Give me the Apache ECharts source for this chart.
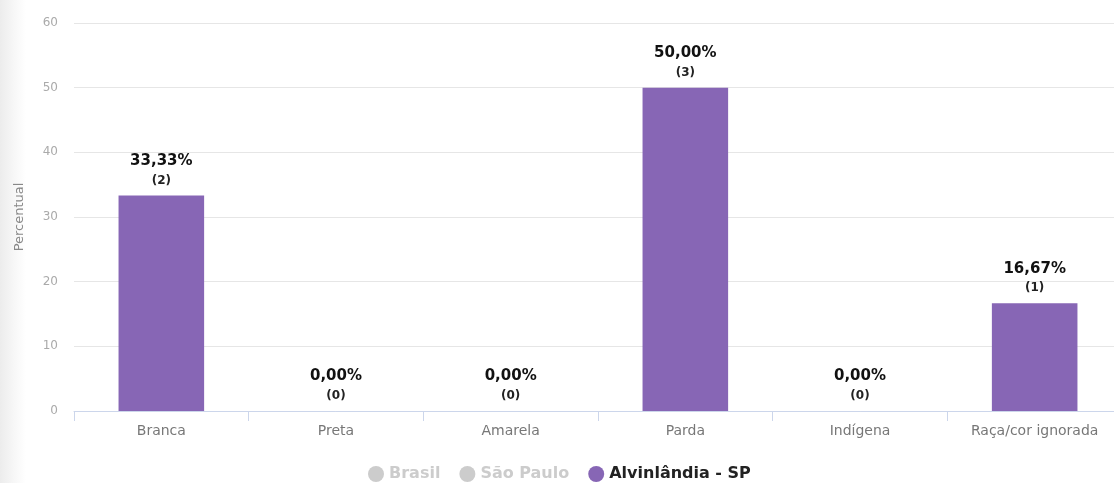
<!DOCTYPE html>
<html>
<head>
<meta charset="utf-8">
<script src="https://cdn.jsdelivr.net/npm/echarts@6/dist/echarts.min.js"></script>
<style>
  html, body { margin: 0; padding: 0; overflow: hidden; }
  body {
    width: 1114px; height: 483px;
    background: linear-gradient(to right, #ececec 0px, #f7f7f7 14px, #ffffff 26px);
  }
  #chart { width: 1124px; height: 483px; }
</style>
</head>
<body>
<div id="chart"></div>
<script>
// Raça/cor categories and the municipality's values
const categories = ['Branca', 'Preta', 'Amarela', 'Parda', 'Indígena', 'Raça/cor ignorada'];
const percentuais = [33.33, 0, 0, 50, 0, 16.67];
const quantidades = [2, 0, 0, 3, 0, 1];
const yTicks = [0, 10, 20, 30, 40, 50, 60];
const seriesNames = ['Brasil', 'São Paulo', 'Alvinlândia - SP'];

const FONT = '"DejaVu Sans", Lato, sans-serif';
const PURPLE = '#8766b5';

const fmt = v => v.toFixed(2).replace('.', ',') + '%';

const chart = echarts.init(document.getElementById('chart'), null, { renderer: 'canvas' });

chart.setOption({
  animation: false,
  textStyle: { fontFamily: FONT },
  color: ['#b0b0b0', '#b0b0b0', PURPLE],
  grid: { left: 74, right: 2, top: 23, bottom: 72, containLabel: false },
  legend: {
    data: seriesNames,
    bottom: -4,
    left: 363,
    icon: 'circle',
    itemWidth: 16,
    itemHeight: 16,
    itemGap: 19,
    inactiveColor: '#cccccc',
    selected: { 'Brasil': false, 'São Paulo': false, 'Alvinlândia - SP': true },
    textStyle: { fontFamily: FONT, fontSize: 16, fontWeight: 'bold', color: '#222' }
  },
  xAxis: {
    type: 'category',
    data: categories,
    axisLine: { lineStyle: { color: '#ccd6eb' } },
    axisTick: { show: true, length: 10, lineStyle: { color: '#ccd6eb' } },
    axisLabel: { color: '#777', fontSize: 14, margin: 13, fontFamily: FONT }
  },
  yAxis: {
    type: 'value',
    min: yTicks[0],
    max: yTicks[yTicks.length - 1],
    interval: 10,
    name: 'Percentual',
    nameLocation: 'middle',
    nameGap: 48,
    nameTextStyle: { color: '#888', fontSize: 13, fontFamily: FONT },
    axisLine: { show: false },
    axisTick: { show: false },
    axisLabel: { color: '#aaa', fontSize: 12, margin: 16, fontFamily: FONT },
    splitLine: { lineStyle: { color: '#e6e6e6' } }
  },
  series: [
    { name: 'Brasil', type: 'bar', data: [] },
    { name: 'São Paulo', type: 'bar', data: [] },
    {
      name: 'Alvinlândia - SP',
      type: 'bar',
      barWidth: '49%',
      itemStyle: { color: PURPLE },
      data: percentuais,
      label: {
        show: true,
        position: 'top',
        distance: 6,
        formatter: p => '{a|' + fmt(p.value) + '}\n{b|(' + quantidades[p.dataIndex] + ')}',
        rich: {
          a: { fontFamily: FONT, fontSize: 15, fontWeight: 'bold', color: '#111', lineHeight: 21 },
          b: { fontFamily: FONT, fontSize: 12, fontWeight: 'bold', color: '#222', lineHeight: 18 }
        }
      }
    }
  ]
});
</script>
</body>
</html>
